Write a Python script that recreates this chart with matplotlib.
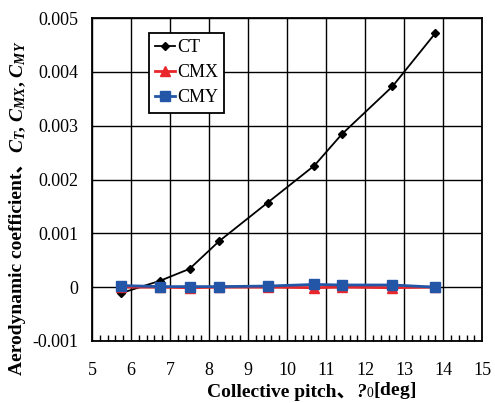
import matplotlib
matplotlib.use("Agg")
import matplotlib.pyplot as plt
from matplotlib.ticker import FuncFormatter, MultipleLocator

# collective pitch [deg] and measured coefficients
pitch = [5.75, 6.75, 7.5, 8.25, 9.5, 10.7, 11.4, 12.7, 13.8]
ct = [-0.00011, 0.00012, 0.00034, 0.00085, 0.00157, 0.00226, 0.00284, 0.00373, 0.00472]
cmx = [0.0, 0.0, -0.00001, 0.0, 0.0, -0.00001, 0.0, -0.00001, 0.0]
cmy = [0.00003, 0.00001, 0.00001, 0.00001, 0.00002, 0.00005, 0.00004, 0.00004, 0.0]

xticks = list(range(5, 16))
yticks = [-0.001, 0, 0.001, 0.002, 0.003, 0.004, 0.005]

serif = ['Liberation Serif', 'Noto Sans CJK JP']
plt.rcParams['font.family'] = serif
plt.rcParams['mathtext.fontset'] = 'custom'
plt.rcParams['mathtext.rm'] = 'Liberation Serif'
plt.rcParams['mathtext.it'] = 'Liberation Serif:italic:bold'

fig = plt.figure(figsize=(4.95, 4.03), dpi=100)
ax = fig.add_axes([0.186, 0.154, 0.788, 0.801])

ax.plot(pitch, ct, color='black', marker='D', markersize=4, linewidth=1.3, label='CT')
ax.plot(pitch, cmx, color='#e8262b', marker='^', markersize=6.5, linewidth=2.0, label='CMX')
ax.plot(pitch, cmy, color='#2356a6', marker='s', markersize=6.5, linewidth=2.0, label='CMY')

ax.set_xlim(5, 15)
ax.set_ylim(-0.001, 0.005)
ax.set_xticks(xticks)
ax.set_yticks(yticks)
ax.xaxis.set_minor_locator(MultipleLocator(0.2))
ax.yaxis.set_major_formatter(FuncFormatter(lambda v, p: '0' if abs(v) < 1e-12 else f'{v:g}'))
ax.grid(True, which='major', color='black', linewidth=1.0)
ax.set_axisbelow(True)
ax.tick_params(which='major', length=0, labelsize=13)
ax.tick_params(axis='y', pad=10)
ax.tick_params(axis='x', pad=15)
ax.tick_params(axis='x', which='minor', direction='in', length=4, width=1.0)
for s in ax.spines.values():
    s.set_linewidth(1.3)
    s.set_color('black')

leg = ax.legend(loc='upper left', bbox_to_anchor=(0.146, 0.955), borderaxespad=0,
                fontsize=13, fancybox=False, framealpha=1, edgecolor='black',
                handlelength=1.1, handletextpad=0.1, labelspacing=0.45, borderpad=0.35)
leg.get_frame().set_linewidth(1.3)

# y label: CJK comma needs the fallback family, symbols go in mathtext
t1 = fig.text(0.036, 0.07, 'Aerodynamic coefficient、', rotation=90, ha='center', va='bottom',
              fontsize=14, fontweight='bold', family=serif)
ax.annotate(r'$C_T$, $C_{MX}$, $C_{MY}$', xy=(0.5, 1.0), xycoords=t1, rotation=90,
            ha='center', va='bottom', fontsize=14, fontweight='bold', family='Liberation Serif')

# x label, pieced together so the comma and the italic symbol get the right fonts
t2 = fig.text(0.418, 0.006, 'Collective pitch、', ha='left', va='bottom',
              fontsize=14, fontweight='bold', family=serif)
t3 = ax.annotate('?', xy=(1.0, 0.0), xycoords=t2, ha='left', va='bottom',
                 fontsize=14, fontweight='bold', fontstyle='italic', family='Liberation Serif')
ax.annotate(r'$_{\mathit{0}}$[deg]', xy=(1.0, 0.0), xycoords=t3,
            ha='left', va='bottom',
            fontsize=14, fontweight='bold', family='Liberation Serif')

fig.savefig('out.png', dpi=100)
